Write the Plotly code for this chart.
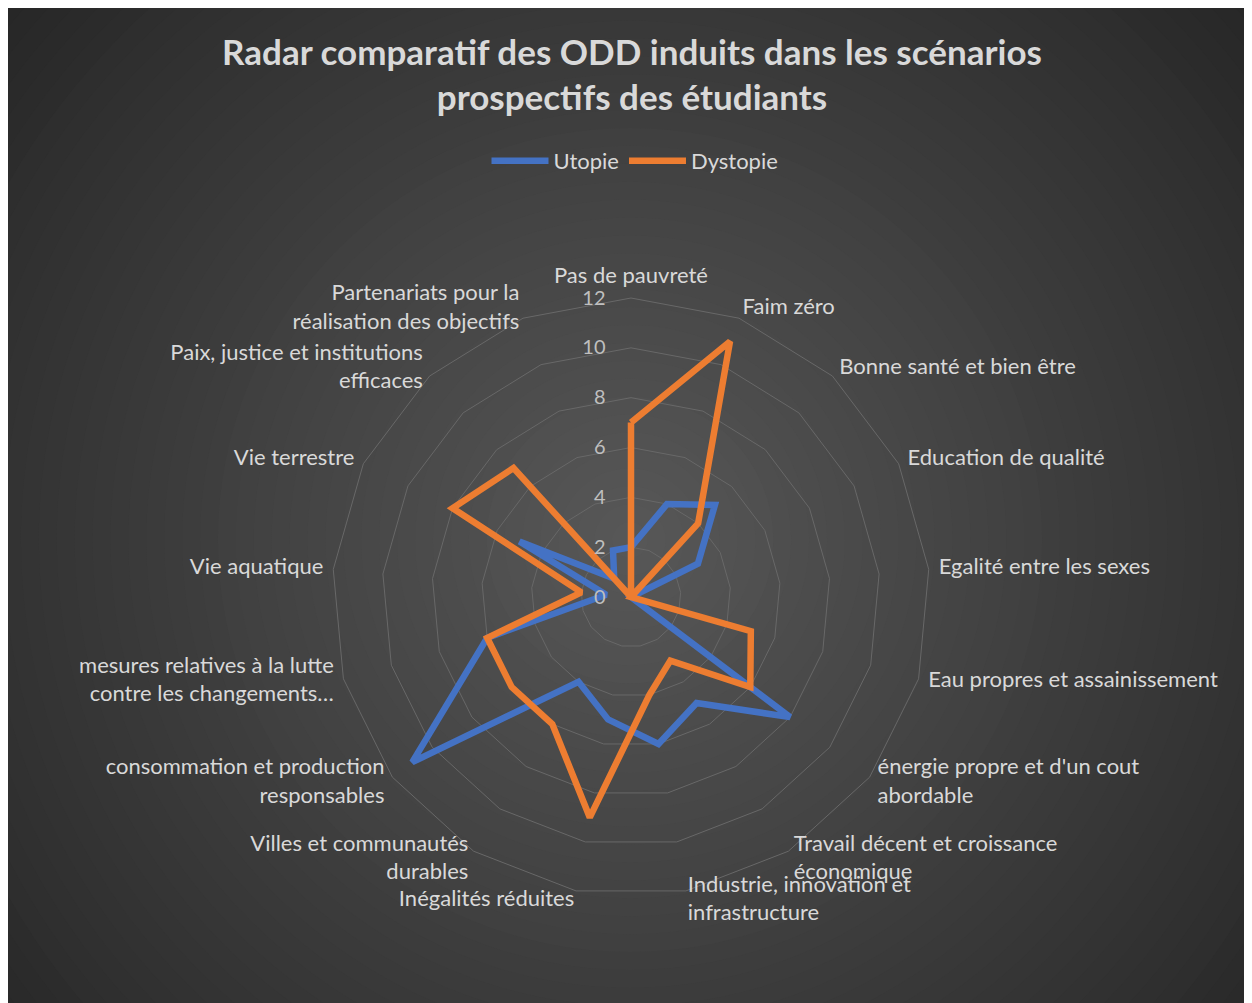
import plotly.graph_objects as go

# ---------------------------------------------------------------------------
# Data
# ---------------------------------------------------------------------------
categories = [
    "Pas de pauvreté",
    "Faim zéro",
    "Bonne santé et bien être",
    "Education de qualité",
    "Egalité entre les sexes",
    "Eau propres et assainissement",
    "énergie propre et d'un cout<br>abordable",
    "Travail décent et croissance<br>économique",
    "Industrie, innovation et<br>infrastructure",
    "Inégalités réduites",
    "Villes et communautés<br>durables",
    "consommation et production<br>responsables",
    "mesures relatives à la lutte<br>contre les changements…",
    "Vie aquatique",
    "Vie terrestre",
    "Paix, justice et institutions<br>efficaces",
    "Partenariats pour la<br>réalisation des objectifs",
]
utopie   = [2, 4, 5, 3, 0, 0, 8, 5, 6, 5, 4, 11, 6, 1, 5, 1, 2]
dystopie = [7, 11, 4, 0, 0, 5, 6, 3, 4, 9, 6, 6, 6, 2, 8, 7, 0]
radial_ticks = [0, 2, 4, 6, 8, 10, 12]

# ---------------------------------------------------------------------------
# Style
# ---------------------------------------------------------------------------
W, H = 1244, 995          # page adds an 8px body margin top/left
_OFF = 8
_BLUE   = "#4472C4"
_ORANGE = "#ED7D31"
_TEXT   = "#D9D9D9"
_TICK   = "#BFBFBF"
_GRID   = "#686868"
_FONT   = "Lato"

CX, CY = 631, 597           # polar centre in screen pixels
R12 = 299                   # pixel radius of the outer (12) ring
R_MAX = 12.5                # a little headroom so the labels stay in range
R = R12 * R_MAX / 12
LABEL_R = 12.4              # category labels sit just outside the last ring


def _px_x(x):
    return (x - _OFF) / W


def _px_y(y):
    return 1 - (y - _OFF) / H


def _closed(vals):
    return list(vals) + [vals[0]]


def _label_pos(i, n):
    ang = 360.0 * i / n
    if ang == 0:
        return "top center"
    return "middle right" if ang < 180 else "middle left"


fig = go.Figure()

fig.add_trace(go.Scatterpolar(
    r=_closed(utopie), theta=_closed(categories),
    mode="lines", name="Utopie",
    line=dict(color=_BLUE, width=6.5),
))
fig.add_trace(go.Scatterpolar(
    r=_closed(dystopie), theta=_closed(categories),
    mode="lines", name="Dystopie",
    line=dict(color=_ORANGE, width=6.5),
))

# category labels (Excel-like placement next to the outer ring)
fig.add_trace(go.Scatterpolar(
    r=[LABEL_R] * len(categories), theta=categories,
    mode="text", text=categories,
    textposition=[_label_pos(i, len(categories)) for i in range(len(categories))],
    textfont=dict(family=_FONT, size=22, color=_TEXT),
    cliponaxis=False, showlegend=False, hoverinfo="skip",
))

# radial gradient background (Excel style) built from stacked circles
shapes = []
gx, gy, gmax, n = 630, 540, 860, 48
c_in, c_out = (0x58, 0x58, 0x58), (0x25, 0x25, 0x25)
for k in range(n, 0, -1):
    t = k / n
    rr = gmax * t
    col = tuple(round(c_in[i] + (c_out[i] - c_in[i]) * t) for i in range(3))
    shapes.append(dict(
        type="circle", xref="paper", yref="paper", layer="below",
        x0=_px_x(gx - rr), x1=_px_x(gx + rr),
        y0=_px_y(gy + rr), y1=_px_y(gy - rr),
        fillcolor="rgb(%d,%d,%d)" % col, line=dict(width=0),
    ))

fig.update_layout(
    width=W, height=H,
    margin=dict(l=0, r=0, t=0, b=0),
    paper_bgcolor="#262626",
    font=dict(family=_FONT, color=_TEXT, size=22),
    shapes=shapes,
    title=dict(
        text="<b>Radar comparatif des ODD induits dans les scénarios<br>prospectifs des étudiants</b>",
        x=_px_x(632), xanchor="center",
        y=_px_y(64.5), yanchor="middle",
        font=dict(family=_FONT, size=35, color=_TEXT),
    ),
    legend=dict(
        orientation="h",
        x=_px_x(635), xanchor="center",
        y=_px_y(161), yanchor="middle",
        bgcolor="rgba(0,0,0,0)",
        itemwidth=57,
        font=dict(size=22, color=_TEXT),
    ),
    polar=dict(
        domain=dict(x=[_px_x(CX - R), _px_x(CX + R)],
                    y=[_px_y(CY + R), _px_y(CY - R)]),
        bgcolor="rgba(0,0,0,0)",
        gridshape="linear",
        radialaxis=dict(
            range=[0, R_MAX], tickvals=radial_ticks,
            angle=90, tickangle=90, side="counterclockwise",
            showline=False,
            ticks="outside", ticklen=18, tickcolor="rgba(0,0,0,0)",
            gridcolor=_GRID, gridwidth=1,
            tickfont=dict(size=20, color=_TICK),
        ),
        angularaxis=dict(
            rotation=90, direction="clockwise",
            showgrid=False, showline=False, ticks="",
            showticklabels=False,
        ),
    ),
)

fig.write_html("out.html")
